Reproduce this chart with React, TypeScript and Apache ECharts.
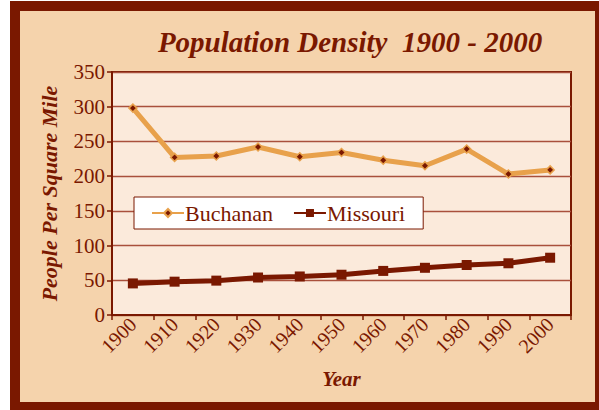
import React, { useEffect, useRef } from "react";
import * as echarts from "echarts";

const years = ["1900", "1910", "1920", "1930", "1940", "1950", "1960", "1970", "1980", "1990", "2000"];
const buchanan = [298, 227, 229, 242, 228, 234, 223, 215, 239, 203, 209];
const missouri = [45.5, 48, 49.5, 54, 55.5, 58, 63.5, 68, 72, 74.5, 82.5];
const titleText = "Population Density  1900 - 2000";
const yName = "People Per Square Mile";
const xName = "Year";

const DARK = "#7a1800";
const LIGHT = "#f5d3ac";
const PLOT = "#fbeadb";
const ORANGE = "#e8a14b";
const SERIF = "Times New Roman, Liberation Serif, DejaVu Serif, serif";

export default function App() {
  const ref = useRef<HTMLDivElement>(null);
  useEffect(() => {
    if (!ref.current) return;
    const chart = echarts.init(ref.current, null, { renderer: "svg" });
    chart.setOption({
      animation: false,
      backgroundColor: "#ffffff",
      textStyle: { fontFamily: SERIF },
      graphic: [
        { type: "rect", z: -100, silent: true, shape: { x: 10, y: 1, width: 600, height: 420 }, style: { fill: DARK } },
        { type: "rect", z: -99, silent: true, shape: { x: 20, y: 11, width: 575, height: 391 }, style: { fill: LIGHT } },
      ],
      title: {
        text: titleText,
        left: 345,
        textAlign: "center",
        top: 22,
        textStyle: { fontFamily: SERIF, fontStyle: "italic", fontWeight: "bold", fontSize: 29, color: DARK },
      },
      grid: {
        left: 112,
        top: 72,
        right: 28,
        bottom: 95,
        show: true,
        backgroundColor: PLOT,
        borderColor: DARK,
        borderWidth: 2,
      },
      legend: {
        left: 134,
        top: 197,
        backgroundColor: "#ffffff",
        borderColor: DARK,
        borderWidth: 1,
        borderRadius: 0,
        padding: [5, 18, 5, 17],
        itemWidth: 32,
        itemHeight: 10,
        itemGap: 20,
        textStyle: { fontFamily: SERIF, fontSize: 22, color: DARK, padding: [0, 0, 0, -4] },
        data: ["Buchanan", "Missouri"],
      },
      xAxis: {
        type: "category",
        data: years,
        boundaryGap: true,
        name: xName,
        nameLocation: "middle",
        nameGap: 53,
        nameTextStyle: { fontFamily: SERIF, fontStyle: "italic", fontWeight: "bold", fontSize: 21, color: DARK },
        axisLine: { lineStyle: { color: DARK, width: 2 } },
        axisTick: { show: true, length: 5, lineStyle: { color: DARK, width: 1.5 } },
        axisLabel: { rotate: 45, fontFamily: SERIF, fontSize: 20, color: DARK, margin: 6 },
        splitLine: { show: false },
      },
      yAxis: {
        type: "value",
        min: 0,
        max: 350,
        interval: 50,
        name: yName,
        nameLocation: "middle",
        nameRotate: 90,
        nameGap: 52,
        nameTextStyle: { fontFamily: SERIF, fontStyle: "italic", fontWeight: "bold", fontSize: 22, color: DARK },
        axisLine: { show: true, lineStyle: { color: DARK, width: 2 } },
        axisTick: { show: true, length: 5, lineStyle: { color: DARK, width: 1.5 } },
        axisLabel: { fontFamily: SERIF, fontSize: 21, color: DARK, margin: 7 },
        splitLine: { show: true, lineStyle: { color: "#a9503c", width: 1.3 } },
      },
      series: [
        {
          name: "Buchanan",
          type: "line",
          data: buchanan,
          lineStyle: { color: ORANGE, width: 5 },
          itemStyle: { color: DARK, borderColor: ORANGE, borderWidth: 1.5 },
          symbol: "diamond",
          symbolSize: 8,
          showSymbol: true,
        },
        {
          name: "Missouri",
          type: "line",
          data: missouri,
          lineStyle: { color: DARK, width: 5 },
          itemStyle: { color: DARK },
          symbol: "rect",
          symbolSize: 10,
          showSymbol: true,
        },
      ],
    });
    return () => chart.dispose();
  }, []);
  return <div ref={ref} style={{ position: "fixed", left: 0, top: 0, width: 599, height: 410 }} />;
}
